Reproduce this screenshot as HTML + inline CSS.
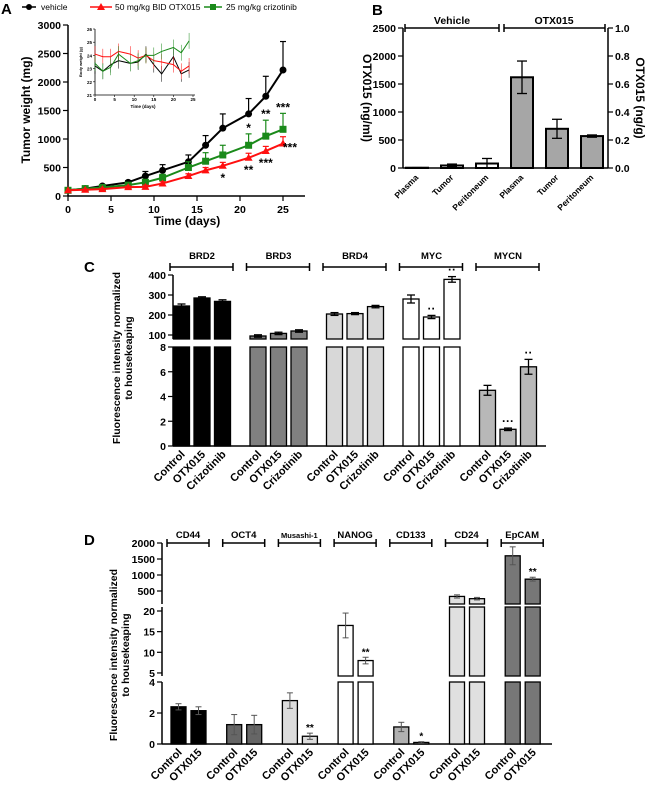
<!DOCTYPE html>
<html><head><meta charset="utf-8"><style>
html,body{margin:0;padding:0;background:#fff;}
svg{display:block;font-family:"Liberation Sans",Arial,sans-serif;font-weight:bold;}
</style></head><body>
<svg id="fig" width="650" height="785" viewBox="0 0 650 785" xmlns="http://www.w3.org/2000/svg"></svg>
<script>
// ---- Panel A data ----
const daysA = [0,2,4,7,9,11,14,16,18,21,23,25];
const vehicleA = [100,130,175,240,350,450,600,890,1190,1440,1750,2210];
const vehicleErrA = [0,10,20,30,80,100,120,170,250,270,350,500];
const otxA = [100,110,120,155,160,220,350,450,530,670,790,920];
const otxErrA = [0,10,15,20,30,30,40,50,60,80,80,120];
const crizA = [100,130,150,190,240,320,500,610,720,890,1050,1170];
const crizErrA = [0,10,20,30,50,60,100,150,170,200,280,280];
const ticksAY = [0,500,1000,1500,2000,2500,3000];
const ticksAX = [0,5,10,15,20,25];
// inset
const daysI = [0,2,4,6,9,11,13,15,17,20,22,24];
const vehI = [23.2,22.8,23.3,23.6,23.4,23.5,24.1,23.3,22.6,23.9,22.6,22.9];
const otxI = [24.1,23.9,23.9,24.3,24.1,23.8,24.0,23.6,23.5,23.3,22.8,23.2];
const crizI = [23.4,22.8,23.1,24.1,23.4,23.6,24.0,24.0,24.3,24.6,24.2,25.1];
const ticksIY = [21,22,23,24,25,26];
const ticksIX = [0,5,10,15,20,25];
// ---- Panel B data ----
const catsB = ["Plasma","Tumor","Peritoneum","Plasma","Tumor","Peritoneum"];
const valsB = [5,45,80,1620,700,570];
const errB = [2,25,90,290,170,20];
const ticksBL = [0,500,1000,1500,2000,2500];
const ticksBR = [0,0.2,0.4,0.6,0.8,1.0];
// ---- Panel C data ----
const genesC = ["BRD2","BRD3","BRD4","MYC","MYCN"];
const condsC = ["Control","OTX015","Crizotinib"];
const valsC = [[245,285,268],[95,108,120],[205,207,242],[280,190,378],[4.5,1.35,6.4]];
const errC = [[10,6,8],[6,6,6],[7,5,6],[20,8,14],[0.4,0.1,0.6]];
const starsC = [["","",""],["","",""],["","",""],["","**","**"],["","***","**"]];
const ticksCU = [100,200,300,400];
const ticksCL = [0,2,4,6,8];
// ---- Panel D data ----
const genesD = ["CD44","OCT4","Musashi-1","NANOG","CD133","CD24","EpCAM"];
const condsD = ["Control","OTX015"];
const valsD = [[2.4,2.15],[1.25,1.25],[2.8,0.5],[16.5,8],[1.1,0.1],[330,260],[1600,870]];
const errD = [[0.2,0.25],[0.65,0.6],[0.5,0.2],[3,0.8],[0.3,0.05],[50,40],[280,60]];
const starsD = [["",""],["",""],["","**"],["","**"],["","*"],["",""],["","**"]];
const ticksDT = [500,1000,1500,2000];
const ticksDM = [5,10,15,20];
const ticksDL = [0,2,4];

const svg = document.getElementById('fig');
const NS = 'http://www.w3.org/2000/svg';
function el(tag, attrs, parent){
  const e = document.createElementNS(NS, tag);
  for (const k in attrs) e.setAttribute(k, attrs[k]);
  (parent||svg).appendChild(e);
  return e;
}
function txt(s, x, y, size, anchor, parent, extra){
  const t = el('text', Object.assign({x:x, y:y, 'font-size':size, 'text-anchor':anchor||'middle', fill:'#000'}, extra||{}), parent);
  t.textContent = s;
  return t;
}
function line(x1,y1,x2,y2,stroke,w,parent){ return el('line',{x1,y1,x2,y2,stroke:stroke||'#000','stroke-width':w||1.5},parent); }

// ================= PANEL A =================
const gA = el('g',{});


const xA = d => 68 + d*8.6;
const yA = v => 196 - v*171/3000;
txt('A', 1, 14, 15, 'start', gA);
line(68,25,68,196,'#000',1.5,gA);
line(68,196,305,196,'#000',1.5,gA);
ticksAY.forEach(v=>{ line(63,yA(v),68,yA(v),'#000',1.2,gA); txt(String(v),61,yA(v)+4,10.5,'end',gA); });
ticksAX.forEach(v=>{ line(xA(v),196,xA(v),201,'#000',1.2,gA); txt(String(v),xA(v),213,10.5,'middle',gA); });
txt('Time (days)', 187, 225, 12, 'middle', gA);
const ytA = txt('Tumor  weight (mg)', 30, 110, 12, 'middle', gA, {transform:'rotate(-90 30 110)'});


function seriesA(vals, errs, color, marker, name){
  const g = el('g',{},gA);
  
  
  vals.forEach((v,i)=>{ if(errs[i]>0){ line(xA(daysA[i]),yA(v),xA(daysA[i]),yA(v+errs[i]),color,1.2,g); line(xA(daysA[i])-3,yA(v+errs[i]),xA(daysA[i])+3,yA(v+errs[i]),color,1.2,g);} });
  el('polyline',{points:vals.map((v,i)=>xA(daysA[i])+','+yA(v)).join(' '),fill:'none',stroke:color,'stroke-width':2},g);
  vals.forEach((v,i)=>{ marker(xA(daysA[i]),yA(v),g); });
}
seriesA(vehicleA, vehicleErrA, '#000', (x,y,g)=>el('circle',{cx:x,cy:y,r:3.5,fill:'#000'},g), 'series-vehicle');
seriesA(crizA, crizErrA, '#1a8a1a', (x,y,g)=>el('rect',{x:x-3.5,y:y-3.5,width:7,height:7,fill:'#1a8a1a'},g), 'series-crizotinib');
seriesA(otxA, otxErrA, '#ff1010', (x,y,g)=>el('polygon',{points:`${x},${y-4} ${x-4},${y+3} ${x+4},${y+3}`,fill:'#ff1010'},g), 'series-otx015');
// stars
txt('*', xA(21), yA(crizA[9]+crizErrA[9])-2, 12,'middle',gA);
txt('**', xA(23), yA(crizA[10]+crizErrA[10])-2, 12,'middle',gA);
txt('***', xA(25), yA(crizA[11]+crizErrA[11])-2, 12,'middle',gA);
txt('*', xA(18), yA(otxA[8])+16, 12,'middle',gA);
txt('**', xA(21), yA(otxA[9])+16, 12,'middle',gA);
txt('***', xA(23), yA(otxA[10])+16, 12,'middle',gA);
txt('***', xA(25)+0, yA(otxA[11])+8, 12,'start',gA);
// legend
const lg = el('g',{},gA);


line(22,7,36,7,'#000',1.5,lg); el('circle',{cx:29,cy:7,r:3,fill:'#000'},lg); txt('vehicle',41,10,8.5,'start',lg,{'font-weight':'normal'});
line(90,7,112,7,'#ff1010',1.5,lg); el('polygon',{points:'101,3 97,10 105,10',fill:'#ff1010'},lg); txt('50 mg/kg BID OTX015',115,10,8.5,'start',lg,{'font-weight':'normal'});
line(204,7,222,7,'#1a8a1a',1.5,lg); el('rect',{x:210,y:4,width:6,height:6,fill:'#1a8a1a'},lg); txt('25 mg/kg crizotinib',226,10,8.5,'start',lg,{'font-weight':'normal'});
// inset
const gI = el('g',{},gA);


const xI = d => 95 + d*3.92;
const yI = v => 29 + (26-v)*13.2;
line(95,29,95,95,'#000',0.8,gI); line(95,95,195,95,'#000',0.8,gI);
ticksIY.forEach(v=>{ line(93,yI(v),95,yI(v),'#000',0.6,gI); txt(String(v),92,yI(v)+2,4.5,'end',gI); });
ticksIX.forEach(v=>{ line(xI(v),95,xI(v),97,'#000',0.6,gI); txt(String(v),xI(v),101,4.5,'middle',gI); });
txt('Time (days)',143,108,4.5,'middle',gI);
txt('Body weight (g)',82,62,4,'middle',gI,{transform:'rotate(-90 82 62)'});
[[vehI,'#000'],[otxI,'#ff1010'],[crizI,'#1a8a1a']].forEach(([arr,c])=>{
  arr.forEach((v,i)=>{ line(xI(daysI[i]),yI(v+0.6),xI(daysI[i]),yI(v-0.6),c,0.5,gI); });
  el('polyline',{points:arr.map((v,i)=>xI(daysI[i])+','+yI(v)).join(' '),fill:'none',stroke:c,'stroke-width':1},gI);
});

// ================= PANEL B =================
const gB = el('g',{});


const yB = v => 168 - v*140/2500;
const xB = i => 417 + i*35;
txt('B', 372, 15, 15, 'start', gB);
line(403,28,403,168,'#000',1.5,gB); line(608,28,608,168,'#000',1.5,gB); line(403,168,608,168,'#000',1.5,gB);
ticksBL.forEach(v=>{ line(398,yB(v),403,yB(v),'#000',1.2,gB); txt(String(v),396,yB(v)+4,10.5,'end',gB); });
ticksBR.forEach(v=>{ const y=168-v*140; line(608,y,613,y,'#000',1.2,gB); txt(v.toFixed(1),615,y+4,10.5,'start',gB); });
txt('OTX015 (ng/ml)',363,98,12,'middle',gB,{transform:'rotate(90 363 98)'});
txt('OTX015 (ng/g)',636,98,12,'middle',gB,{transform:'rotate(90 636 98)'});
line(405,28,499,28,'#000',1.5,gB); line(405,24,405,32,'#000',1.5,gB); line(499,24,499,32,'#000',1.5,gB);
line(504,28,605,28,'#000',1.5,gB); line(504,24,504,32,'#000',1.5,gB); line(605,24,605,32,'#000',1.5,gB);
txt('Vehicle',452,24,10.5,'middle',gB); txt('OTX015',554,24,10.5,'middle',gB);
valsB.forEach((v,i)=>{
  const r = el('rect',{x:xB(i)-11,y:yB(v),width:22,height:168-yB(v),fill:i<3?'#fff':'#a6a6a6',stroke:'#000','stroke-width':2},gB);
  
  
  line(xB(i),yB(v-errB[i]),xB(i),yB(v+errB[i]),'#000',1.3,gB);
  line(xB(i)-5,yB(v+errB[i]),xB(i)+5,yB(v+errB[i]),'#000',1.3,gB);
  line(xB(i)-5,yB(Math.max(0,v-errB[i])),xB(i)+5,yB(Math.max(0,v-errB[i])),'#000',1.3,gB);
  txt(catsB[i],xB(i)+2,178,8.5,'end',gB,{transform:`rotate(-45 ${xB(i)+2} 178)`});
});

// ================= PANEL C =================
const gC = el('g',{});


const yCU = v => 335 - (v-100)*0.2;
const yCL = v => 446 - v*12.375;
const colorsC = ['#000','#808080','#d8d8d8','#fff','#b8b8b8'];
txt('C', 84, 272, 15, 'start', gC);
line(173,275,173,339,'#000',1.5,gC); line(173,347,173,446,'#000',1.5,gC); line(173,446,546,446,'#000',1.5,gC);
ticksCU.forEach(v=>{ line(168,yCU(v),173,yCU(v),'#000',1.2,gC); txt(String(v),166,yCU(v)+4,10.5,'end',gC); });
ticksCL.forEach(v=>{ line(168,yCL(v),173,yCL(v),'#000',1.2,gC); txt(String(v),166,yCL(v)+4,10.5,'end',gC); });
txt('Fluorescence intensity normalized',120,358,10.5,'middle',gC,{transform:'rotate(-90 120 358)'});
txt('to housekeaping',132,358,10.5,'middle',gC,{transform:'rotate(-90 132 358)'});
genesC.forEach((g,gi)=>{
  const cx = 202 + gi*76.5;
  line(cx-32,267,cx+31,267,'#000',1.5,gC); line(cx-32,263,cx-32,271,'#000',1.5,gC); line(cx+31,263,cx+31,271,'#000',1.5,gC);
  txt(g,cx,259,9.5,'middle',gC);
  condsC.forEach((c,ci)=>{
    const x = cx + (ci-1)*20.5, v = valsC[gi][ci], e = errC[gi][ci];
    const bg = el('g',{},gC);
    
    
    let yErr1, yErr2;
    if (v > 8) {
      el('rect',{x:x-8,y:yCU(v),width:16,height:339-yCU(v),fill:colorsC[gi],stroke:'#000','stroke-width':1.3},bg);
      el('rect',{x:x-8,y:347,width:16,height:99,fill:colorsC[gi],stroke:'#000','stroke-width':1.3},bg);
      yErr1=yCU(v+e); yErr2=yCU(v-e);
    } else {
      el('rect',{x:x-8,y:yCL(v),width:16,height:446-yCL(v),fill:colorsC[gi],stroke:'#000','stroke-width':1.3},bg);
      yErr1=yCL(v+e); yErr2=yCL(v-e);
    }
    line(x,yErr1,x,yErr2,'#000',1.3,bg); line(x-4,yErr1,x+4,yErr1,'#000',1.3,bg); line(x-4,yErr2,x+4,yErr2,'#000',1.3,bg);
    if (starsC[gi][ci]) txt(starsC[gi][ci].replace(/\*/g,'·'),x,yErr1-3,12,'middle',bg);
    txt(c,x+4,455,11,'end',gC,{transform:`rotate(-45 ${x+4} 455)`});
  });
});

// ================= PANEL D =================
const gD = el('g',{});


const yDT = v => 591 - (v-500)*0.032;
const yDM = v => 611 - (v-20)*4.13;
const yDL = v => 744 - v*15.5;
const colorsD = ['#000','#666','#dcdcdc','#fff','#b0b0b0','#e0e0e0','#777'];
txt('D', 84, 545, 15, 'start', gD);
line(162,543,162,604,'#000',1.5,gD); line(162,607,162,676,'#000',1.5,gD); line(162,682,162,744,'#000',1.5,gD);
line(162,744,552,744,'#000',1.5,gD);
ticksDT.forEach(v=>{ line(157,yDT(v),162,yDT(v),'#000',1.2,gD); txt(String(v),155,yDT(v)+4,10.5,'end',gD); });
ticksDM.forEach(v=>{ line(157,yDM(v),162,yDM(v),'#000',1.2,gD); txt(String(v),155,yDM(v)+4,10.5,'end',gD); });
ticksDL.forEach(v=>{ line(157,yDL(v),162,yDL(v),'#000',1.2,gD); txt(String(v),155,yDL(v)+4,10.5,'end',gD); });
txt('Fluorescence intensity normalized',117,655,10.5,'middle',gD,{transform:'rotate(-90 117 655)'});
txt('to housekeaping',129,655,10.5,'middle',gD,{transform:'rotate(-90 129 655)'});
genesD.forEach((g,gi)=>{
  const cx = 188 + gi*55.7;
  line(cx-21,543,cx+21,543,'#000',1.5,gD); line(cx-21,539,cx-21,547,'#000',1.5,gD); line(cx+21,539,cx+21,547,'#000',1.5,gD);
  txt(g,cx,538,g.length>6?7.5:9.5,'middle',gD);
  condsD.forEach((c,ci)=>{
    const x = cx + (ci===0?-9.5:10.5), v = valsD[gi][ci], e = errD[gi][ci];
    const bg = el('g',{},gD);
    
    
    const st = {fill:colorsD[gi],stroke:'#000','stroke-width':1.3};
    let f;
    if (v > 20) {
      el('rect',Object.assign({x:x-7.5,y:yDT(v),width:15,height:604-yDT(v)},st),bg);
      el('rect',Object.assign({x:x-7.5,y:607,width:15,height:69},st),bg);
      el('rect',Object.assign({x:x-7.5,y:682,width:15,height:62},st),bg);
      f=yDT;
    } else if (v > 4) {
      el('rect',Object.assign({x:x-7.5,y:yDM(v),width:15,height:676-yDM(v)},st),bg);
      el('rect',Object.assign({x:x-7.5,y:682,width:15,height:62},st),bg);
      f=yDM;
    } else {
      el('rect',Object.assign({x:x-7.5,y:yDL(v),width:15,height:744-yDL(v)},st),bg);
      f=yDL;
    }
    const y1=f(v+e), y2=f(Math.max(0,v-e));
    line(x,y1,x,y2,'#555',1,bg); line(x-3,y1,x+3,y1,'#555',1,bg); line(x-3,y2,x+3,y2,'#555',1,bg);
    if (starsD[gi][ci]) txt(starsD[gi][ci],x,y1-2,10,'middle',bg);
    txt(c,x+4,753,11,'end',gD,{transform:`rotate(-45 ${x+4} 753)`});
  });
});
</script>
</body></html>
